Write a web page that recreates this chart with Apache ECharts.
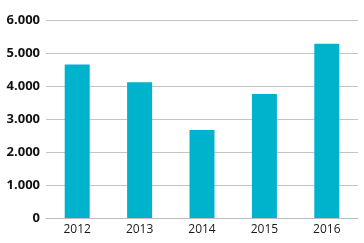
<!DOCTYPE html>
<html><head><meta charset="utf-8">
<script src="https://cdn.jsdelivr.net/npm/echarts@6/dist/echarts.min.js"></script>
<style>html,body{margin:0;padding:0;background:#fff}#c{width:364px;height:243px}</style>
</head><body><div id="c"></div>
<script>
const categories = ['2012', '2013', '2014', '2015', '2016'];
const values = [4650, 4110, 2670, 3760, 5280];
const yTicks = [0, 1000, 2000, 3000, 4000, 5000, 6000];

const chart = echarts.init(document.getElementById('c'), null, {renderer: 'canvas'});
chart.setOption({
  animation: false,
  grid: {left: 46, right: 6, top: 20, bottom: 25, containLabel: false},
  xAxis: {
    type: 'category', data: categories,
    axisLine: {show: true, lineStyle: {color: '#bdbdbd', width: 1}},
    axisTick: {show: false},
    axisLabel: {color: '#1a1a1a', fontFamily: 'Open Sans', fontSize: 12, margin: 6}
  },
  yAxis: {
    type: 'value', min: yTicks[0], max: yTicks[yTicks.length - 1], interval: 1000,
    axisLine: {show: false}, axisTick: {show: false},
    splitLine: {lineStyle: {color: '#c4c4c4', width: 1}},
    axisLabel: {
      color: '#111', fontFamily: 'Open Sans', fontWeight: 'bold', fontSize: 13, margin: 6,
      formatter: v => v === 0 ? '0' : (v / 1000).toFixed(0) + '.000'
    }
  },
  series: [{
    type: 'bar', data: values, barWidth: 25,
    itemStyle: {color: '#00b3cc'}
  }]
});
</script></body></html>
